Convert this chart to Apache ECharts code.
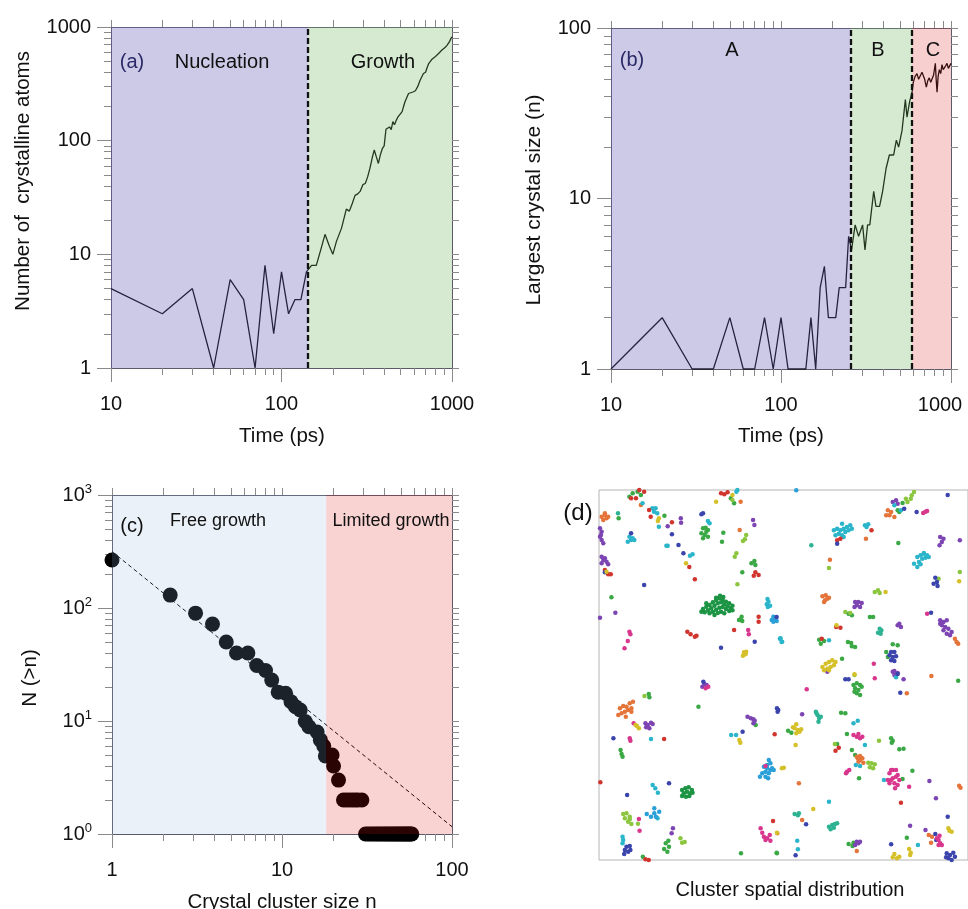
<!DOCTYPE html>
<html lang="en">
<head>
  <meta charset="UTF-8">
  <title>Crystal nucleation and growth</title>
  <script src="https://cdn.jsdelivr.net/npm/echarts@6/dist/echarts.min.js"></script>
  <style>
    html, body { margin: 0; padding: 0; background: #fff; }
  </style>
</head>
<body>
  <div id="main" style="width:968px;height:909px"></div>

  <script>
    // (a) crystalline atoms vs time
    var timeA = [10,20,30,40,50,60,70,80,90,100,110,120,130,140,150,160,170,180,190,200,210,225,240,250,260,270,280,290,300,
      310,320,330,340,350,360,370,380,390,400,410,420,430,440,450,460,470,480,490,500,510,520,530,540,556,570,590,610,630,650,665,680,
      700,715,730,745,760,780,800,820,840,855,870,890,910,935,950,970,985,1000]
    var atomsA = [5,3,5,1,6,4,1,8,2,7,3,4,4,7,8,8,11,15,12,10,13,17,25,24,28,33,34,36,41,
      42,48,57,70,83,72,63,75,85,90,126,128,132,125,147,138,150,160,167,172,180,200,220,215,260,262,268,275,300,340,330,390,
      400,440,477,470,517,530,550,565,590,580,624,640,660,690,680,750,790,817]
    var splitA = 143.5

    // (b) largest crystal size vs time
    var timeB = [10,20,30,40,50,60,70,80,90,100,110,140,150,160,170,180,190,210,220,240,250,260,273,286,302,312,323,333,
      351,362,380,396,415,434,460,477,492,515,539,551,571,590,600,615,631,645,660,675,687,700,716,730,745,760,773,790,
      809,818,828,840,854,870,885,900,914,930,947,965,990,1000]
    var sizeB = [1,2,1,1,2,1,1,2,1,2,1,1,2,1,3,4,2,2,3,3,6,5,7,6,7,5,7,7,
      11,9,9,11,15,18,18,22,20,25,38,30,37,42,48,52,54,50,51,55,55,50,45,49,51,48,47,53,
      62,50,42,52,57,54,61,57,58,60,62,58,59,62]
    var splitB = [257, 590]

    // (c) cumulative cluster size distribution
    var sizeC = [1,2.2,3.1,3.9,4.7,5.4,6.3,7.1,8,8.7,9.5,10.5,11.3,12,12.8,13.7,14.4,16.1,16.8,17.6,18,19.7,20.1,21.5,
      23,24,25,26,27,28,29.5,
      31,32,33,34,35,36,37,38,39,40,41,42,43,44,45,46,47,48,49,50,51,52,53,54,55,56,57,58]
    var countC = [266,130,90,72,50,40,40,31,28,23,18,17.6,14.8,13.4,12.5,9.9,8.9,8,6.8,6,4.9,5,4,3,
      2,2,2,2,2,2,2,
      1,1,1,1,1,1,1,1,1,1,1,1,1,1,1,1,1,1,1,1,1,1,1,1,1,1,1,1]
    var fitX = [1, 100]
    var fitY = [316, 1.16]
    var splitC = 18.2

    // tick values
    var majA = [10, 100, 1000], minA = [20,30,40,50,60,70,80,90,200,300,400,500,600,700,800,900]
    var majY3 = [1, 10, 100, 1000], minY3 = [2,3,4,5,6,7,8,9,20,30,40,50,60,70,80,90,200,300,400,500,600,700,800,900]
    var majY2 = [1, 10, 100], minY2 = [2,3,4,5,6,7,8,9,20,30,40,50,60,70,80,90]
    var majC = [1, 10, 100]

    // (d) cluster positions (frame units, y down)
    var dotsGreen = [[105,35],[115,25],[130,20],[140,30],[72,100],[212,92],[425,55],[415,40],[330,130],[340,140],[335,150],[345,155],[330,160],[338,128],[325,145],[345,135],[392,143],[388,170],[487,228],[478,235],[490,240],[450,262],[50,337],[448,395],[445,403],[450,408],[440,405],[940,54],[925,76],[930,81],[927,174],[775,386],[785,391],[840,396],[850,396],[685,464],[700,468],[690,476],[773,471],[783,474],[795,486],[785,484],[910,478],[925,481],[890,501],[895,516],[755,521],[164,627],[166,637],[316,665],[78,795],[81,807],[84,815],[491,720],[216,1075],[224,1067],[211,1092],[221,1100],[226,1085],[146,1115],[446,1105],[556,1105],[1110,587],[790,600],[800,595],[810,600],[795,610],[805,615],[800,625],[810,630],[815,605],[793,620],[752,683],[765,685],[590,737],[600,743],[770,747],[905,760],[910,767],[907,773],[930,793],[943,791],[740,777],[785,795],[795,810],[807,880],[940,882],[970,857],[555,1103],[775,1077],[790,1073],[787,1083],[953,1058]]
    var dotsDkGreen = [[330,372],[340,365],[350,360],[360,352],[370,345],[380,340],[390,345],[400,350],[410,355],[420,362],[335,382],[345,376],[355,370],[365,362],[375,355],[385,352],[395,358],[405,364],[415,370],[350,385],[360,380],[370,374],[380,368],[390,366],[400,372],[410,378],[365,390],[375,384],[385,380],[395,385],[370,338],[382,332],[392,336],[340,355],[420,376],[325,380],[266,915],[276,910],[286,907],[296,915],[271,925],[281,920],[291,925],[266,933],[278,935],[288,933],[298,923]]
    var dotsLime = [[420,45],[462,150],[458,163],[452,168],[432,205],[427,215],[435,298],[955,51],[965,41],[975,21],[968,31],[950,41],[715,249],[1050,281],[1115,261],[855,321],[865,316],[870,324],[765,381],[780,384],[151,633],[86,987],[96,985],[106,995],[101,1010],[111,1017],[91,1000],[106,1003],[131,1016],[261,1060],[266,1073],[274,1071],[793,570],[868,767],[733,777],[835,833],[845,835],[855,838],[840,847],[850,850]]
    var dotsOrange = [[20,95],[30,90],[40,95],[25,105],[35,100],[30,85],[140,60],[445,50],[442,135],[895,76],[905,81],[890,91],[900,91],[915,96],[828,161],[718,224],[695,334],[705,331],[710,341],[703,346],[715,338],[700,351],[1100,461],[1105,471],[1110,476],[76,670],[86,663],[96,665],[106,655],[116,650],[81,685],[91,680],[101,675],[111,670],[94,695],[71,690],[111,680],[1028,573],[953,625],[803,820],[810,825],[817,820],[805,830],[820,833],[800,815],[810,813],[623,895],[1113,902],[1117,908],[633,1005],[557,1045],[1020,1050],[1030,1055],[1027,1073],[800,1098]]
    var dotsPurple = [[15,130],[20,140],[15,155],[20,165],[25,175],[18,150],[20,215],[30,220],[35,230],[25,225],[40,238],[20,235],[62,383],[15,398],[222,124],[262,100],[263,113],[483,105],[487,120],[910,51],[920,46],[925,56],[1055,156],[1065,161],[1060,171],[1053,181],[1115,166],[795,351],[805,351],[800,361],[810,366],[793,366],[815,354],[930,416],[925,421],[935,426],[1055,406],[1065,411],[1075,406],[1060,421],[1070,426],[1080,431],[1065,436],[1075,446],[1085,451],[1090,441],[1055,416],[915,558],[925,564],[920,571],[328,605],[334,597],[341,600],[466,695],[476,700],[484,703],[488,707],[484,715],[154,715],[161,720],[171,713],[156,727],[166,730],[176,717],[238,1030],[234,1045],[710,560],[910,560],[915,570],[943,583],[633,688],[1022,888],[1042,940],[963,1022],[1010,1035],[800,1070],[805,1075],[810,1070],[795,1080]]
    var dotsCyan = [[145,55],[175,70],[180,80],[190,85],[185,70],[195,125],[105,155],[115,160],[100,170],[110,165],[120,165],[218,182],[222,182],[290,212],[298,208],[345,108],[350,115],[527,342],[530,350],[525,358],[535,362],[528,366],[567,460],[572,470],[432,20],[435,15],[915,61],[935,76],[730,136],[740,131],[750,136],[760,131],[770,126],[780,121],[755,116],[745,146],[735,151],[755,151],[765,141],[775,136],[785,131],[760,156],[825,121],[835,118],[830,126],[985,216],[995,211],[1005,206],[1015,211],[1020,216],[1000,221],[1010,218],[990,231],[975,236],[995,238],[985,246],[1005,204],[565,461],[570,471],[715,466],[171,762],[416,750],[431,750],[176,900],[184,910],[192,923],[191,1000],[84,1055],[86,1065],[84,1075],[920,577],[790,715],[803,707],[825,780],[797,840],[810,843],[883,885],[715,950],[618,1067],[620,1093],[987,1080]]
    var dotsSky = [[516,845],[526,840],[536,835],[531,825],[541,850],[521,860],[531,865],[511,865],[546,855],[536,855],[526,850],[504,875],[521,875],[529,880],[545,395],[550,400],[540,405],[555,408],[545,410],[158,987],[171,995],[181,985],[186,995],[196,980],[181,970],[615,16]]
    var dotsRed = [[125,40],[135,15],[150,20],[110,40],[165,75],[170,95],[30,255],[40,268],[48,268],[235,112],[288,246],[305,283],[385,25],[395,28],[405,22],[490,262],[500,270],[485,272],[500,395],[500,410],[425,435],[282,440],[292,448],[305,455],[310,452],[740,166],[750,161],[845,136],[737,426],[750,428],[693,461],[211,762],[16,892],[549,748],[154,1123],[164,1125],[544,1008],[745,788],[735,797],[935,953]]
    var dotsBlue = [[110,145],[30,262],[150,300],[235,148],[255,180],[270,205],[325,88],[330,85],[488,470],[385,488],[1078,14],[1078,30],[945,71],[983,81],[740,176],[1040,278],[1045,291],[1035,296],[1047,303],[1027,383],[555,396],[905,501],[915,501],[900,511],[910,516],[920,514],[905,526],[915,528],[331,590],[56,760],[226,895],[98,930],[556,670],[558,680],[451,740],[96,1085],[106,1083],[91,1095],[101,1100],[108,1095],[89,1107],[765,583],[775,583],[925,567],[933,623],[560,675],[645,1018],[1078,995],[1040,1047],[1043,1065],[905,1078],[613,1111],[1075,1105],[1085,1110],[1095,1103],[1080,1120],[1090,1125],[1100,1115],[1073,1117]]
    var dotsMagenta = [[105,440],[108,448],[100,468],[90,490],[468,435],[470,448],[1003,84],[1010,80],[1015,78],[1015,386],[852,536],[338,610],[346,605],[118,715],[106,760],[108,767],[521,843],[134,1002],[136,1037],[506,1030],[511,1043],[516,1055],[526,1060],[534,1050],[536,1067],[521,1065],[855,580],[647,613],[790,750],[800,755],[805,747],[810,760],[817,755],[770,860],[777,855],[767,865],[900,865],[910,855],[920,875],[905,885],[915,895],[925,870],[930,885],[900,895],[917,910],[910,880],[925,900],[905,855],[920,855],[895,885],[960,905],[1045,1060],[1050,1065],[1055,1075],[1060,1080],[1050,1080],[1053,1052]]
    var dotsYellow = [[35,260],[195,100],[192,108],[278,235],[370,50],[420,30],[455,502],[460,508],[452,512],[462,500],[930,14],[1113,289],[888,321],[738,421],[695,546],[705,536],[715,531],[725,526],[735,531],[710,551],[720,546],[730,541],[700,556],[715,556],[793,568],[128,723],[134,730],[124,720],[441,765],[444,773],[571,850],[556,1043],[615,718],[610,730],[620,735],[625,740],[615,745],[630,733],[605,727],[613,780],[577,848],[667,972],[1080,1030],[1090,1040],[1083,1037],[915,1107],[923,1120],[930,1115],[910,1117],[960,1092],[965,1103],[963,1110]]
    var dotsTeal = [[70,85],[870,431],[875,436],[865,443],[873,446],[661,181],[675,680],[680,690],[685,700],[690,695],[683,710],[677,685],[610,987],[623,985],[620,991],[715,1025],[725,1020],[733,1017],[740,1015],[720,1033],[730,1028]]

    var dotSets = [
      { name: 'green', color: '#3aa845', data: dotsGreen },
      { name: 'dkgreen', color: '#1c9444', data: dotsDkGreen },
      { name: 'lime', color: '#8cc63f', data: dotsLime },
      { name: 'orange', color: '#e4743a', data: dotsOrange },
      { name: 'purple', color: '#7d45b3', data: dotsPurple },
      { name: 'cyan', color: '#2bb5cb', data: dotsCyan },
      { name: 'sky', color: '#2a9fd8', data: dotsSky },
      { name: 'red', color: '#d0352e', data: dotsRed },
      { name: 'blue', color: '#3b44ad', data: dotsBlue },
      { name: 'magenta', color: '#d9368d', data: dotsMagenta },
      { name: 'yellow', color: '#d6c02a', data: dotsYellow },
      { name: 'teal', color: '#2db393', data: dotsTeal }
    ]

    // translucent washes laid over black marks
    var washPurple = 'rgba(105,100,185,0.34)'
    var washGreen = 'rgba(115,185,98,0.30)'
    var washPink = 'rgba(223,63,64,0.25)'
    var washBlueC = 'rgba(144,181,218,0.19)'
    var washPinkC = 'rgba(223,18,18,0.19)'

    var FONT = 'Liberation Sans'
    var xAxes = [], yAxes = []

    function plain(v) { return String(Math.round(v)) }

    // three axes per side pair: labelled major ticks, minor ticks, and the opposite frame edge
    function addLogAxes(list, dim, grid, min, max, majors, minors, label) {
      var near = dim === 'x' ? 'bottom' : 'left'
      var far = dim === 'x' ? 'top' : 'right'
      var base = { type: 'log', logBase: 10, gridIndex: grid, min: min, max: max,
        splitLine: { show: false }, minorTick: { show: false }, minorSplitLine: { show: false } }
      var first = list.length
      list.push(Object.assign({}, base, {
        position: near,
        axisLine: { show: true, onZero: false, lineStyle: { color: '#5a5a6a', width: 1 } },
        axisTick: { show: true, inside: false, length: 14, customValues: majors, lineStyle: { color: '#8a8a8a' } },
        axisLabel: Object.assign({ show: true, customValues: majors, fontSize: 20, color: '#111', fontFamily: FONT,
          margin: dim === 'x' ? 26 : 20, formatter: plain }, label || {})
      }))
      list.push(Object.assign({}, base, {
        position: near,
        axisLine: { show: false, onZero: false },
        axisTick: { show: true, inside: false, length: 7, customValues: minors, lineStyle: { color: '#8a8a8a' } },
        axisLabel: { show: false }
      }))
      list.push(Object.assign({}, base, {
        position: far,
        axisLine: { show: true, onZero: false, lineStyle: { color: '#5a5a6a', width: 1 } },
        axisTick: { show: true, inside: false, length: 7, customValues: majors.concat(minors), lineStyle: { color: '#8a8a8a' } },
        axisLabel: { show: false }
      }))
      return first
    }

    var axA = addLogAxes(xAxes, 'x', 0, 10, 1000, majA, minA)
    var ayA = addLogAxes(yAxes, 'y', 0, 1, 1000, majY3, minY3)
    var axB = addLogAxes(xAxes, 'x', 1, 10, 1000, majA, minA, {
      // last label nudged left so it stays inside the page
      formatter: function (v) { return Math.round(v) === 1000 ? '{r|1000}' : plain(v) },
      rich: { r: { fontSize: 20, fontFamily: FONT, color: '#111', padding: [0, 22, 0, 0] } }
    })
    var ayB = addLogAxes(yAxes, 'y', 1, 1, 100, majY2, minY2)
    var axC = addLogAxes(xAxes, 'x', 2, 1, 100, majC, minY2)
    var ayC = addLogAxes(yAxes, 'y', 2, 1, 1000, majY3, minY3, {
      formatter: function (v) { return '10{s|' + Math.round(Math.log10(v)) + '}' },
      rich: { s: { fontSize: 13, fontFamily: FONT, color: '#111', padding: [0, 0, 12, 0] } }
    })
    xAxes.push({ type: 'value', gridIndex: 3, min: 12, max: 1140, show: false })
    yAxes.push({ type: 'value', gridIndex: 3, min: 15, max: 1125, inverse: true, show: false })

    function band(a, b, color) {
      return [{ xAxis: a, itemStyle: { color: color } }, { xAxis: b }]
    }
    function dashed(x) {
      return { xAxis: x }
    }
    var dashStyle = { color: '#111', width: 2.3, type: [6, 3] }

    var series = [
      {
        type: 'line', xAxisIndex: axA, yAxisIndex: ayA, z: 2,
        data: timeA.map(function (t, i) { return [t, atomsA[i]] }),
        showSymbol: false, lineStyle: { color: '#000', width: 1.3 },
        markArea: { silent: true, z: 3, data: [band(10, splitA, washPurple), band(splitA, 1000, washGreen)] },
        markLine: { silent: true, z: 6, symbol: 'none', label: { show: false }, lineStyle: dashStyle, data: [dashed(splitA)] }
      },
      {
        type: 'line', xAxisIndex: axB, yAxisIndex: ayB, z: 2,
        data: timeB.map(function (t, i) { return [t, sizeB[i]] }),
        showSymbol: false, lineStyle: { color: '#000', width: 1.3 },
        markArea: { silent: true, z: 3, data: [band(10, splitB[0], washPurple), band(splitB[0], splitB[1], washGreen), band(splitB[1], 1000, washPink)] },
        markLine: { silent: true, z: 6, symbol: 'none', label: { show: false }, lineStyle: dashStyle, data: [dashed(splitB[0]), dashed(splitB[1])] }
      },
      {
        type: 'line', xAxisIndex: axC, yAxisIndex: ayC, z: 2,
        data: fitX.map(function (x, i) { return [x, fitY[i]] }),
        showSymbol: false, lineStyle: { color: '#000', width: 1, type: [4, 3] }
      },
      {
        type: 'scatter', xAxisIndex: axC, yAxisIndex: ayC, z: 2, clip: false,
        data: sizeC.map(function (x, i) { return [x, countC[i]] }),
        symbolSize: 15, itemStyle: { color: '#000', opacity: 1 },
        markArea: { silent: true, z: 3, data: [band(1, splitC, washBlueC), band(splitC, 100, washPinkC)] }
      }
    ]
    dotSets.forEach(function (s) {
      series.push({
        type: 'scatter', name: s.name, xAxisIndex: xAxes.length - 1, yAxisIndex: yAxes.length - 1,
        data: s.data, symbolSize: 4.5, itemStyle: { color: s.color, opacity: 1 }
      })
    })

    function label(text, x, y, size, extra) {
      return Object.assign({
        type: 'text', x: x, y: y, z: 100,
        style: { text: text, fontSize: size, fontFamily: FONT, fill: '#111', align: 'center', verticalAlign: 'middle' }
      }, extra || {})
    }
    function vlabel(text, x, y, size) {
      return label(text, x, y, size, { rotation: Math.PI / 2 })
    }

    var graphics = [
      label('(a)', 132, 62, 20), label('Nucleation', 222, 62, 20), label('Growth', 383, 62, 20),
      label('(b)', 632, 60, 20), label('A', 732, 50, 20), label('B', 878, 50, 20), label('C', 933, 50, 20),
      label('(c)', 132, 526, 20), label('Free growth', 218, 521, 18), label('Limited growth', 391, 521, 18),
      label('(d)', 578, 513, 24),
      vlabel('Number of  crystalline atoms', 23, 181, 20.5),
      vlabel('Largest crystal size (n)', 534, 200, 21),
      vlabel('N (>n)', 30, 678, 20.5),
      label('Time (ps)', 282, 436, 20.5),
      label('Time (ps)', 781, 436, 20.5),
      label('Crystal cluster size n', 282, 902, 20.5),
      label('Cluster spatial distribution', 790, 890, 20)
    ]
    graphics[0].style.fill = '#2a2a66'
    graphics[3].style.fill = '#2a2a66'

    var chart = echarts.init(document.getElementById('main'))
    chart.setOption({
      animation: false,
      textStyle: { fontFamily: FONT },
      grid: [
        { left: 111, top: 27, width: 341, height: 341 },
        { left: 611, top: 28, width: 340, height: 341 },
        { left: 112, top: 495, width: 340, height: 339 },
        { left: 599, top: 490, width: 376, height: 370, show: true, borderColor: '#b5b5b5', borderWidth: 1, backgroundColor: '#fff' }
      ],
      xAxis: xAxes,
      yAxis: yAxes,
      series: series,
      graphic: graphics
    })
  </script>
</body>
</html>
